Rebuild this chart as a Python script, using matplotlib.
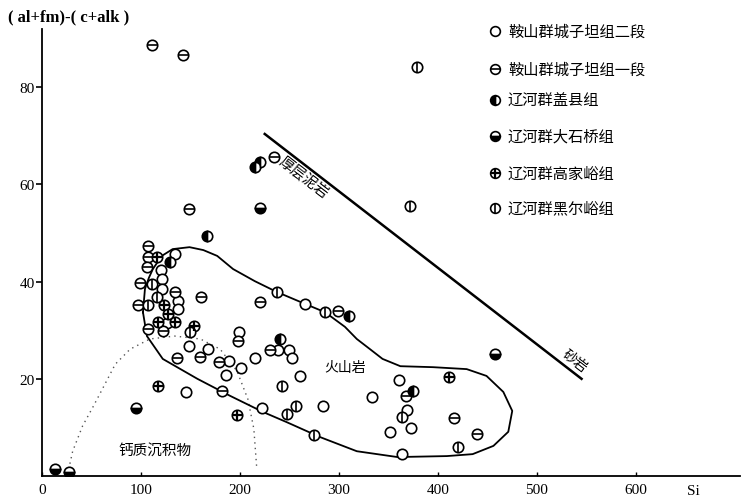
import matplotlib
matplotlib.use('Agg')
import matplotlib.pyplot as plt

plt.rcParams['font.family'] = ['Liberation Serif', 'Noto Sans CJK SC']
CJK = ['Noto Sans CJK SC', 'DejaVu Sans']

# --- data (Si vs (al+fm)-(c+alk)) ---
series_labels = ['鞍山群城子坦组二段', '鞍山群城子坦组一段', '辽河群盖县组',
                 '辽河群大石桥组', '辽河群高家峪组', '辽河群黑尔峪组']
series_kinds = ['open', 'hline', 'left', 'bottom', 'cross', 'vline']

czt2_x = [134, 120, 121, 121, 137, 137, 126, 148, 168, 199, 189, 201, 186, 215,
          238, 250, 253, 261, 266, 145, 222, 284, 361, 333, 369, 352, 373, 364]
czt2_y = [45.7, 42.4, 40.5, 38.5, 36.0, 34.4, 31.5, 26.7, 26.1, 29.6, 23.7, 22.2, 20.8, 24.3,
          25.9, 25.9, 24.3, 20.6, 35.4, 17.3, 14.0, 14.4, 19.8, 16.3, 13.6, 9.1, 9.9, 4.5]

czt1_x = [111, 142, 234, 148, 107, 107, 106, 99, 134, 97, 107, 122, 161, 220,
          198, 136, 160, 179, 230, 182, 299, 368, 416, 439]
czt1_y = [88.7, 86.6, 65.6, 54.9, 47.4, 45.1, 43.0, 39.7, 37.9, 35.2, 30.2, 29.8, 36.8, 35.8,
          27.8, 24.3, 24.5, 23.5, 25.9, 17.5, 34.0, 16.5, 11.9, 8.6]

gaixian_x = [167, 215, 220, 129, 240, 310, 375]
gaixian_y = [49.4, 63.6, 64.6, 44.0, 28.2, 32.9, 17.5]

dashiqiao_x = [220, 458, 95, 13, 27]
dashiqiao_y = [55.1, 25.1, 13.9, 1.4, 0.8]

gaojiayu_x = [116, 123, 127, 134, 117, 154, 117, 197, 411]
gaojiayu_y = [45.1, 35.2, 33.3, 31.7, 31.7, 30.9, 18.5, 12.6, 20.4]

heieryu_x = [379, 372, 111, 116, 107, 150, 237, 286, 242, 247, 257, 364, 275, 420]
heieryu_y = [84.2, 55.6, 39.5, 36.8, 35.2, 29.6, 37.9, 33.7, 18.5, 12.8, 14.4, 12.1, 8.4, 6.0]

series_x = [czt2_x, czt1_x, gaixian_x, dashiqiao_x, gaojiayu_x, heieryu_x]
series_y = [czt2_y, czt1_y, gaixian_y, dashiqiao_y, gaojiayu_y, heieryu_y]

# volcanic field outline
volc_x = [102, 104, 108, 112, 121, 132, 149, 163, 177, 193, 215, 237, 266, 286, 306,
          318, 332, 344, 362, 395, 429, 449, 466, 475, 471, 456, 435, 409, 359, 318,
          281, 247, 223, 190, 157, 122, 106]
volc_y = [33.7, 38.5, 40.8, 42.6, 45.3, 46.7, 47.1, 46.5, 45.3, 42.6, 40.1, 37.9, 35.4, 33.7, 30.7,
          28.2, 26.0, 24.1, 22.6, 22.4, 22.0, 20.6, 17.3, 13.4, 9.1, 6.2, 4.5, 4.1, 3.9, 5.1,
          8.0, 11.1, 13.2, 16.5, 20.0, 24.1, 28.8]

# calcareous sediment boundary (dotted)
calc_x = [27, 31, 41, 52, 61, 74, 89, 109, 134, 160, 180, 197, 208, 214, 217]
calc_y = [1.4, 5.1, 10.3, 14.4, 17.9, 23.0, 26.1, 28.2, 28.8, 28.2, 26.1, 21.6, 15.8, 9.7, 1.4]

# pelite / sandstone divide
divide_x = [225, 545]
divide_y = [70.4, 20.0]

x_ticks = [0, 100, 200, 300, 400, 500, 600]
y_ticks = [20, 40, 60, 80]


def draw_marker(ax, xs, ys, kind, ms=7.5, **kw):
    base = dict(linestyle='none', ms=ms, mec='black', mew=1.2, zorder=5, **kw)
    if kind in ('left', 'bottom'):
        ax.plot(xs, ys, 'o', fillstyle=kind, mfc='black', markerfacecoloralt='white', **base)
        return
    ax.plot(xs, ys, 'o', mfc='white', **base)
    over = {'hline': ['_'], 'vline': ['|'], 'cross': ['_', '|']}.get(kind, [])
    for m in over:
        ax.plot(xs, ys, m, linestyle='none', ms=ms, mec='black', mew=1.6 if kind == 'cross' else 1.2,
                zorder=6, **kw)


fig = plt.figure(figsize=(7.43, 5.02), dpi=100)
ax = fig.add_axes([0.0565, 0.0498, 0.9394, 0.8904])

for xs, ys, kind in zip(series_x, series_y, series_kinds):
    draw_marker(ax, xs, ys, kind)

ax.plot(volc_x + volc_x[:1], volc_y + volc_y[:1], color='black', lw=1.3, zorder=3,
        solid_joinstyle='round')
ax.plot(calc_x, calc_y, color='#555555', lw=1.0, ls=(0, (1, 3)), zorder=2)
ax.plot(divide_x, divide_y, color='black', lw=1.8, zorder=3)

ax.text(264, 61.5, '厚层泥岩', family=CJK, fontsize=10.5, rotation=-37.5,
        ha='center', va='center', rotation_mode='anchor')
ax.text(538, 23.8, '砂岩', family=CJK, fontsize=10, rotation=-37.5,
        ha='center', va='center', rotation_mode='anchor')
ax.text(306, 22.4, '火山岩', family=CJK, fontsize=10, ha='center', va='center')
ax.text(114, 5.3, '钙质沉积物', family=CJK, fontsize=10.5, ha='center', va='center')

ax.set_xlim(0, 705)
ax.set_ylim(0, 92)
ax.set_xticks(x_ticks)
ax.set_yticks(y_ticks)
ax.spines[['top', 'right']].set_visible(False)
ax.spines[['left', 'bottom']].set_linewidth(1.3)
ax.tick_params(axis='y', direction='out', length=4, width=1.2, labelsize=11, pad=1)
ax.tick_params(axis='x', direction='in', length=3, width=1.0, labelsize=11, pad=5)

fig.text(8 / 743, 1 - 17 / 502, '( al+fm)-( c+alk )', fontsize=12, fontweight='bold',
         ha='left', va='center')
fig.text(693 / 743, 1 - 492 / 502, 'Si', fontsize=11, ha='center', va='center')

# legend drawn by hand, as in the original plate
legend_rows = [32, 70, 101, 137, 174, 209]
for py, label, kind in zip(legend_rows, series_labels, series_kinds):
    yy = 1 - py / 502
    draw_marker(ax, [495 / 743], [yy], kind, ms=7, transform=fig.transFigure, clip_on=False)
    fig.text(508 / 743, yy, label, family=CJK, fontsize=11, ha='left', va='center')

fig.savefig('out.png', dpi=100, facecolor='white')
